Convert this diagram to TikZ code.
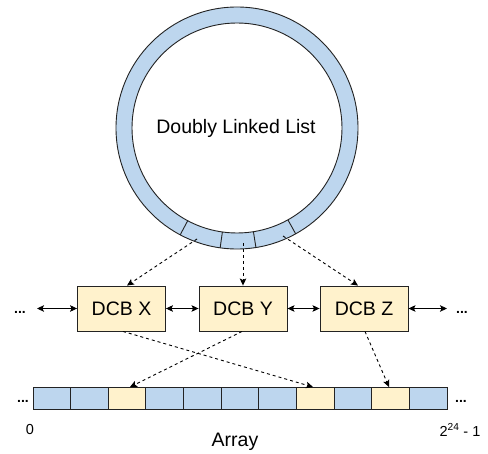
\documentclass[tikz,border=0pt]{standalone}
\usepackage{fontspec}
\setmainfont{Liberation Sans}
\usetikzlibrary{arrows.meta,calc}
\definecolor{cellblue}{RGB}{189,214,238}
\definecolor{cellyellow}{RGB}{255,242,204}
\definecolor{edgegray}{RGB}{35,35,35}
\tikzset{
  bigtext/.style={font=\fontsize{19.5}{22}\selectfont},
  smalltext/.style={font=\fontsize{14.5}{17}\selectfont},
  dotstext/.style={font=\fontsize{14}{16}\selectfont\bfseries},
  dcb/.style={draw=edgegray, line width=0.9pt, fill=cellyellow, minimum width=88pt, minimum height=45pt, inner sep=0pt, bigtext},
  cellbox/.style={draw=edgegray, line width=0.9pt, minimum width=37.636pt, minimum height=22pt, inner sep=0pt, outer sep=0pt},
  tip/.style={-{Stealth[length=7pt,width=6.5pt,inset=1.5pt]}},
  biarrow/.style={line width=0.9pt, {Stealth[length=7pt,width=6.5pt,inset=1.5pt]}-{Stealth[length=7pt,width=6.5pt,inset=1.5pt]}},
  ptr/.style={line width=0.9pt, dash pattern=on 3pt off 3pt, tip},
}
\begin{document}
\begin{tikzpicture}[x=1pt,y=-1pt]
\useasboundingbox[fill=white] (0,0) rectangle (488,454);

% ring
\coordinate (rc) at (237,128);
\fill[cellblue, even odd rule] (rc) circle (121pt) (rc) circle (105pt);
\draw[edgegray, line width=0.9pt] (rc) circle (121pt);
\draw[edgegray, line width=0.9pt] (rc) circle (105pt);
\foreach \a in {118,98,81,61}
  \draw[edgegray, line width=0.9pt] ($(rc)+(\a:105)$) -- ($(rc)+(\a:121)$);
\node[bigtext] (dll) at (236,128) {Doubly Linked List};

% segment pointer origins
\coordinate (sx) at (197,239);
\coordinate (sy) at (243,243);
\coordinate (sz) at (283,236);

% DCB boxes
\node[dcb] (x) at (121.5,308.5) {DCB X};
\node[dcb] (y) at (243,308.5) {DCB Y};
\node[dcb] (z) at (364,308.5) {DCB Z};

\node[dotstext, anchor=base] (dl) at (20,314) {...};
\node[dotstext, anchor=base] (dr) at (462,314) {...};
\coordinate (le) at (37,308.5);
\coordinate (re) at (447,308.5);

\draw[biarrow] (le) -- (x.west);
\draw[biarrow] (x.east) -- (y.west);
\draw[biarrow] (y.east) -- (z.west);
\draw[biarrow] (z.east) -- (re);

% array
\foreach \i/\c in {1/cellblue,2/cellblue,3/cellyellow,4/cellblue,5/cellblue,6/cellblue,7/cellblue,8/cellyellow,9/cellblue,10/cellyellow,11/cellblue}
  \node[cellbox, fill=\c] (c\i) at ({33+37.636*(\i-0.5)},398) {};

\node[dotstext, anchor=base] (al) at (23,403) {...};
\node[dotstext, anchor=base] (ar) at (461,403) {...};

\node[smalltext] (zero) at (30,430) {0};
\node[smalltext] (top) at (460,430) {2\textsuperscript{24} - 1};
\node[bigtext] (arr) at (235,442) {Array};

% pointers ring -> DCB
\draw[ptr] (sx) -- (x.north -| 127,0);
\draw[ptr] (sy) -- (y.north);
\draw[ptr] (sz) -- (z.north -| 358,0);

% pointers DCB -> array
\draw[ptr] (x.south -| 123,0) -- (c8.north -| 313,0);
\draw[ptr] (y.south -| 242,0) -- (c3.north -| 130,0);
\draw[ptr] (z.south -| 365,0) -- (c10.north -| 389,0);
\end{tikzpicture}
\end{document}
